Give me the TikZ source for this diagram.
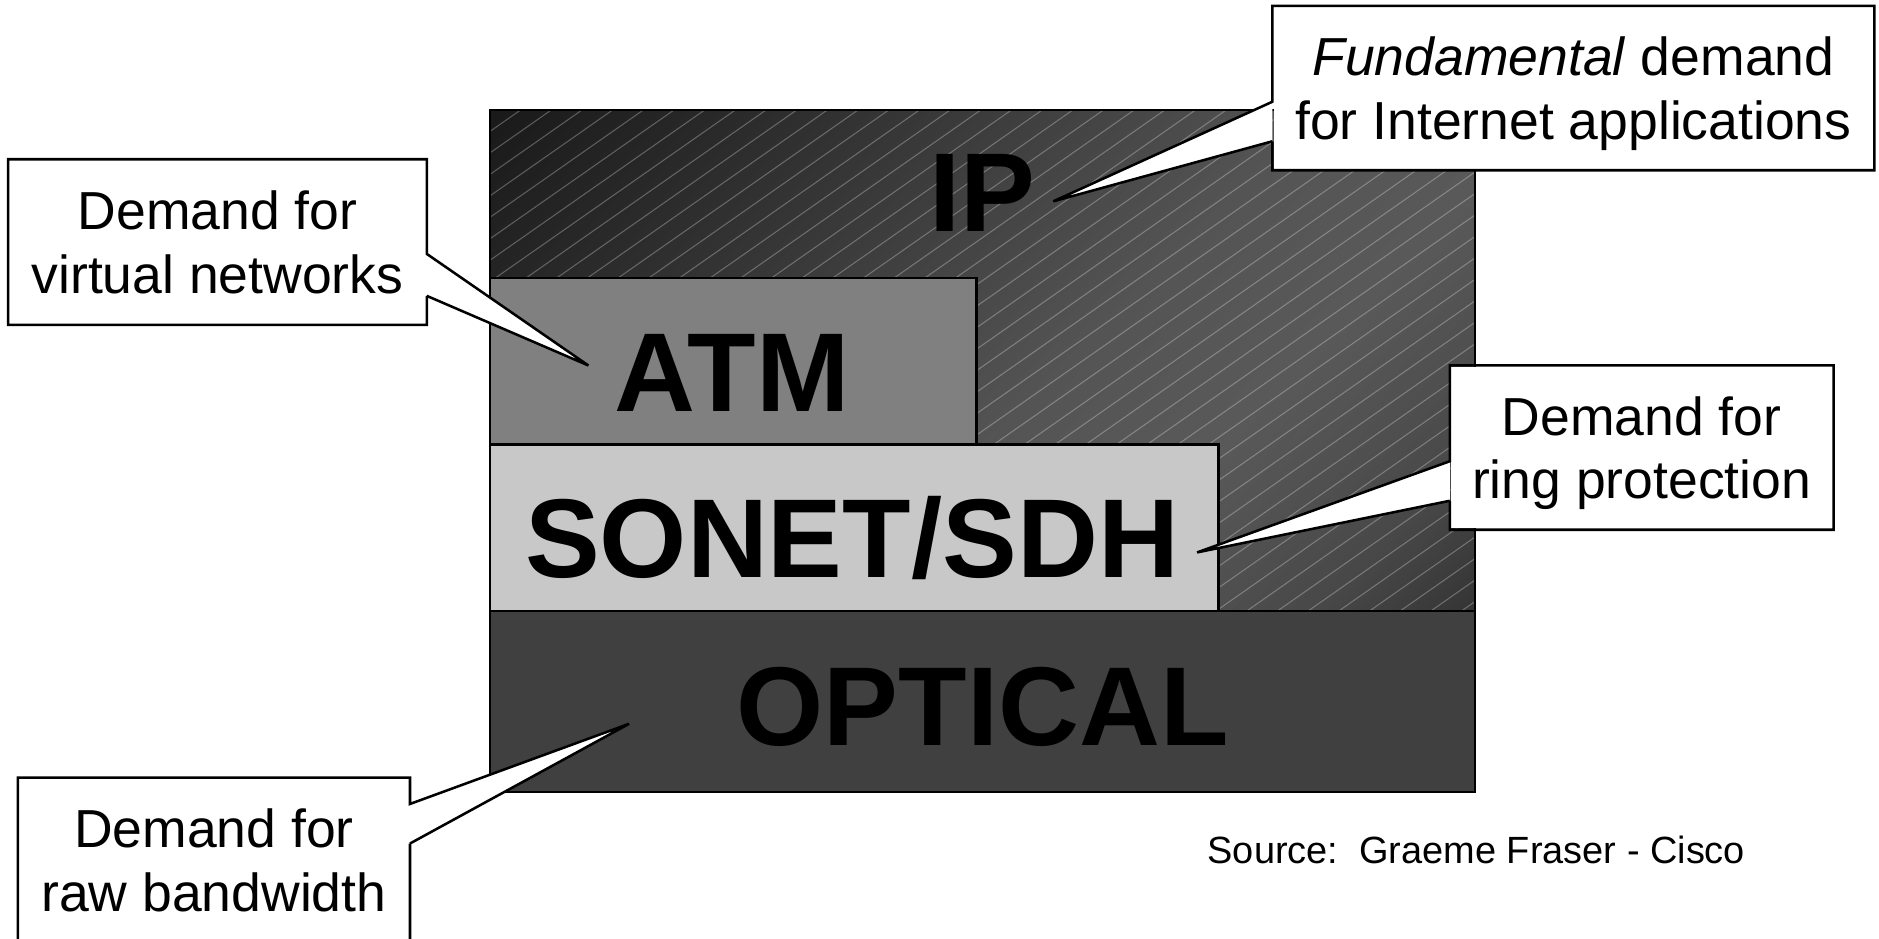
\documentclass[tikz,border=0pt]{standalone}
\usepackage{fontspec}
\setmainfont{Liberation Sans}
\usepackage{tikz}
\usetikzlibrary{calc}

\definecolor{atmgray}{HTML}{808080}
\definecolor{sonetgray}{HTML}{C8C8C8}
\definecolor{opticalgray}{HTML}{404040}

\newcommand{\layerfont}{\fontsize{26.6}{30}\selectfont\bfseries}
\newcommand{\notefont}{\fontsize{12.7}{15.1}\selectfont}
\newcommand{\srcfont}{\fontsize{9}{11}\selectfont}

\pgfdeclarehorizontalshading{ipshade}{100bp}{color(0bp)=(black!90); color(14.6bp)=(black!90); color(25.2bp)=(black!83.5); color(50bp)=(black!67); color(59.9bp)=(black!65); color(71.2bp)=(black!72); color(78.2bp)=(black!80); color(85.4bp)=(black!86.7); color(100bp)=(black!86.7)}

\begin{document}
\begin{tikzpicture}[x=0.01cm, y=-0.01cm, line width=0.6pt,
   layer/.style={draw=black},
   layertext/.style={anchor=base, font=\layerfont},
   note/.style={fill=white, inner sep=0pt, align=center, font=\notefont, text height=24.4pt, text depth=0pt},
   hatch/.style={white, opacity=0.28, line width=0.25pt}]
   \useasboundingbox (0,0) rectangle (1568,783);

   % IP layer with hatching
   \shade[shading=ipshade, shading angle=-45] (409,92) rectangle (1231,661);
   \begin{scope}
    \clip (409,92) rectangle (1231,661);
    \foreach \c in {540,565.6,...,2200}
     \draw[hatch] (\c,0) -- ++(-1000,700);
   \end{scope}
   \draw[layer] (409,92) rectangle (1231,661);

   % lower layers
   \draw[layer, fill=atmgray] (409,232) rectangle (815,371);
   \draw[layer, fill=sonetgray] (409,371) rectangle (1017,510);
   \draw[layer, fill=opticalgray] (409,510) rectangle (1231,661);

   \node[layertext] (iptext) at (820,193) {IP};
   \node[layertext] (atmtext) at (611,343) {ATM};
   \node[layertext] (sonettext) at (711,482) {SONET/SDH};
   \node[layertext] (opticaltext) at (820,622) {OPTICAL};

   \node[font=\srcfont] (source) at (1232,709) {Source:\ \ Graeme Fraser - Cisco};

   % callouts
   \coordinate (iptip) at (879,168);
   \coordinate (atmtip) at (491,305);
   \coordinate (sonettip) at (999,461);
   \coordinate (opticaltip) at (525,604);

   \node[note, minimum width=5cm, minimum height=1.35cm] (ipnote) at (1313,73.5) {\textit{Fundamental} demand\\for Internet applications};
   \coordinate (ipa) at ($(ipnote.north west)+(0,80)$);
   \coordinate (ipb) at ($(ipnote.north west)+(0,113)$);
   \fill[white] (ipa) -- (iptip) -- (ipb) -- cycle;
   \draw (ipb) -- (ipnote.south west) -- (ipnote.south east) -- (ipnote.north east) -- (ipnote.north west) -- (ipa) -- (iptip) -- (ipb);

   \node[note, minimum width=3.47cm, minimum height=1.36cm] (atmnote) at (181.5,202) {Demand for\\virtual networks};
   \coordinate (atma) at ($(atmnote.north east)+(0,79)$);
   \coordinate (atmb) at ($(atmnote.north east)+(0,114)$);
   \fill[white] (atma) -- (atmtip) -- (atmb) -- cycle;
   \draw (atmb) -- (atmnote.south east) -- (atmnote.south west) -- (atmnote.north west) -- (atmnote.north east) -- (atma) -- (atmtip) -- (atmb);

   \node[note, minimum width=3.18cm, minimum height=1.35cm] (sonetnote) at (1370,373.5) {Demand for\\ring protection};
   \coordinate (soneta) at ($(sonetnote.north west)+(0,80)$);
   \coordinate (sonetb) at ($(sonetnote.north west)+(0,113)$);
   \fill[white] (soneta) -- (sonettip) -- (sonetb) -- cycle;
   \draw (sonetb) -- (sonetnote.south west) -- (sonetnote.south east) -- (sonetnote.north east) -- (sonetnote.north west) -- (soneta) -- (sonettip) -- (sonetb);

   \node[note, minimum width=3.25cm, minimum height=1.35cm] (opticalnote) at (178.5,717.5) {Demand for\\raw bandwidth};
   \coordinate (opticala) at ($(opticalnote.north east)+(0,22)$);
   \coordinate (opticalb) at ($(opticalnote.north east)+(0,55)$);
   \fill[white] (opticala) -- (opticaltip) -- (opticalb) -- cycle;
   \draw (opticalb) -- (opticalnote.south east) -- (opticalnote.south west) -- (opticalnote.north west) -- (opticalnote.north east) -- (opticala) -- (opticaltip) -- (opticalb);
\end{tikzpicture}
\end{document}
